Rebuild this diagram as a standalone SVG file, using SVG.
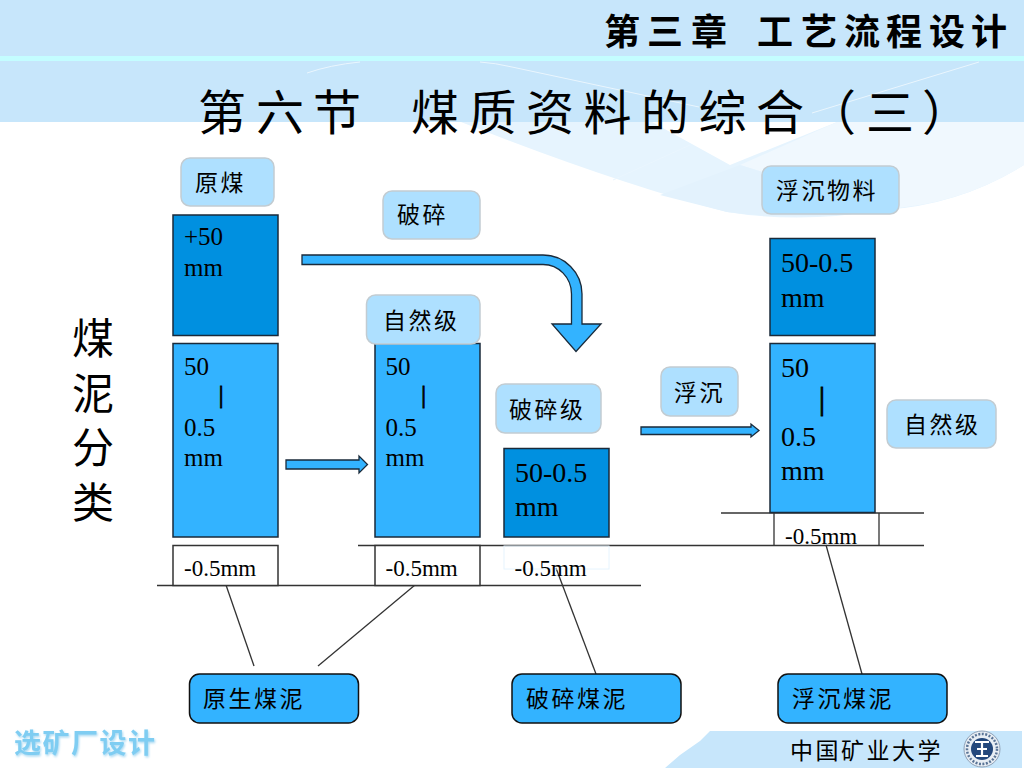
<svg xmlns="http://www.w3.org/2000/svg" width="1024" height="768" viewBox="0 0 1024 768">
<style>
.cjk{font-family:"Noto Sans CJK SC","Noto Sans",sans-serif;fill:#000}
.lab{font-size:23px;letter-spacing:2.5px}
.num{font-family:"Liberation Serif","Times New Roman",serif;fill:#000;font-size:25px}
.fine{font-size:23px}
.big{font-size:28px}
.bar{font-family:"Liberation Serif",serif;fill:#000;stroke:#000;stroke-width:.8px;text-anchor:middle}
.light{fill:#aee0ff;stroke:#c2ccd2;stroke-width:1.5}
.dark{fill:#0090e0;stroke:#1a2a3a;stroke-width:1.5}
.mid{fill:#33b3ff;stroke:#1a2a3a;stroke-width:1.5}
.white{fill:#fff;stroke:#333;stroke-width:1.5}
.tag{fill:#33b3ff;stroke:#111;stroke-width:1.5}
.rule{stroke:#333;stroke-width:1.3;fill:none}
.faint{stroke:#eaf6fe;stroke-width:1;fill:none}
.arrow{fill:#33b3ff;stroke:#1a2a3a;stroke-width:1.3}
</style>
<defs>
<filter id="soft" x="-10%" y="-20%" width="120%" height="140%"><feDropShadow dx="1" dy="1.5" stdDeviation="1" flood-color="#a6d8f2"/></filter>
</defs>
<g id="background">
<rect x="0" y="0" width="1024" height="122" fill="#c7e6fb"/>
<rect x="0" y="56" width="1024" height="5" fill="#c4fdff"/>
<path d="M461,122 L652,122 L730,165 L837,122 L1024,122 L1024,165 Q960,205 883,210 Q800,224 727,212 Q613,182 461,122 Z" fill="#e6f4fe"/>
<path d="M837,122 L1024,122 L1024,165 Q960,205 883,209 L740,165 Z" fill="#f0f8fe"/>
<path d="M660,195 L740,165 L883,209 Q800,222 727,212 Z" fill="#e3f2fd"/>
<path class="faint" d="M307,73 Q330,65 360,62 M480,62 Q495,63 512,67 L699,107 M812,113 L979,62 M613,180 L690,145"/>
<path d="M665,768 L680,755 L700,741 L710,731 L1022,731 L1022,768 Z" fill="#c7e6fb"/>
</g>
<g id="title">
<text class="cjk" font-size="36" font-weight="700" y="45" x="604 647 691 739 757 801 844 886 929 971">第三章 工艺流程设计</text>
<text class="cjk" font-size="48" y="130" x="198 256 313 362 411 468.5 526 583.5 641 698.5 756 808 866 922">第六节 煤质资料的综合（三）</text>
</g>
<g id="side-label">
<text class="cjk" font-size="42" x="72 72 72 72" y="354 409 463 518">煤泥分类</text>
</g>
<g id="connectors">
<path id="line-base-left" class="rule" d="M157,585.500 H641"/>
<path id="line-base-right" class="rule" d="M358,545.500 H924"/>
<path id="line-float-top" class="rule" d="M721,513 H924"/>
<path class="rule" d="M226,585 L254,666"/>
<path class="rule" d="M415,585 L318,666"/>
<path class="rule" d="M556,568 L596,674"/>
<path class="rule" d="M826,545 L862,674"/>
<path id="arrow-crush" class="arrow" d="M302,255 H543 A39,39 0 0 1 582,294 V324 H601 L576,351.500 L552,324 H571.500 V294 A28.500,29.500 0 0 0 543,264.500 H302 Z"/>
<path id="arrow-natural" class="arrow" d="M286,460 H359 V456 L367.500,464.500 L359,473 V469 H286 Z"/>
<path id="arrow-float" class="arrow" d="M641,427 H751 V424 L759,430.500 L751,437 V434.500 H641 Z"/>
</g>
<g id="node-raw">
<rect class="light" x="181" y="158" width="93" height="48" rx="9"/>
<text class="cjk lab" x="195" y="191">原煤</text>
</g>
<g id="node-raw-plus50">
<rect class="dark" x="173" y="215" width="105" height="120.500"/>
<text class="num" x="184" y="245">+50</text>
<text class="num" x="184" y="276">mm</text>
</g>
<g id="node-raw-mid">
<rect class="mid" x="173" y="343.500" width="105" height="193.500"/>
<text class="num" x="184" y="375">50</text>
<text class="bar" font-size="26" x="221" y="403">|</text>
<text class="num" x="184" y="436">0.5</text>
<text class="num" x="184" y="466">mm</text>
</g>
<g id="node-raw-fine">
<rect class="white" x="173" y="545.500" width="105" height="40"/>
<text class="num fine" x="184" y="576">-0.5mm</text>
</g>
<g id="node-crush">
<rect class="light" x="383" y="191" width="97" height="48" rx="9"/>
<text class="cjk lab" x="397" y="223">破碎</text>
</g>
<g id="node-natural">
<rect class="mid" x="375" y="343.500" width="105" height="193.500"/>
<rect class="light" x="366.500" y="295" width="113.500" height="49" rx="9"/>
<text class="cjk lab" x="383" y="329">自然级</text>
<text class="num" x="385.500" y="375">50</text>
<text class="bar" font-size="26" x="423.500" y="403">|</text>
<text class="num" x="385.500" y="436">0.5</text>
<text class="num" x="385.500" y="466">mm</text>
</g>
<g id="node-natural-fine">
<rect class="white" x="375" y="545.500" width="105" height="40"/>
<text class="num fine" x="385.500" y="576">-0.5mm</text>
</g>
<g id="node-crushed">
<rect class="light" x="496" y="384" width="105" height="49" rx="9"/>
<text class="cjk lab" x="509" y="418">破碎级</text>
<rect class="dark" x="504" y="448.500" width="105" height="88.500"/>
<text class="num big" x="515" y="482">50-0.5</text>
<text class="num big" x="515" y="516">mm</text>
</g>
<g id="node-crushed-fine">
<rect x="504" y="546" width="105" height="23" fill="none" stroke="#e6f4fe" stroke-width="1"/>
<text class="num fine" x="514.500" y="576">-0.5mm</text>
</g>
<g id="node-float-label">
<rect class="light" x="661" y="367" width="77" height="49" rx="9"/>
<text class="cjk lab" x="674" y="401">浮沉</text>
</g>
<g id="node-float-material">
<rect class="light" x="762" y="166" width="137" height="48" rx="9"/>
<text class="cjk lab" x="776" y="199">浮沉物料</text>
</g>
<g id="node-float-top">
<rect class="dark" x="770" y="238.500" width="105" height="97"/>
<text class="num big" x="781" y="272">50-0.5</text>
<text class="num big" x="781" y="307">mm</text>
</g>
<g id="node-float-mid">
<rect class="mid" x="770" y="343.500" width="105" height="169"/>
<text class="num big" x="781" y="377">50</text>
<text class="bar" font-size="32" x="822" y="408.500">|</text>
<text class="num big" x="781" y="446">0.5</text>
<text class="num big" x="781" y="480">mm</text>
</g>
<g id="node-float-natural">
<rect class="light" x="887" y="400" width="109" height="48" rx="9"/>
<text class="cjk lab" x="904" y="433">自然级</text>
</g>
<g id="node-float-fine">
<path class="rule" d="M774,513 V545 M879,513 V545" stroke-width="1.500"/>
<text class="num fine" x="785" y="544">-0.5mm</text>
</g>
<g id="node-slime-raw">
<rect class="tag" x="189.500" y="674" width="169" height="49" rx="10"/>
<text class="cjk lab" x="203" y="707">原生煤泥</text>
</g>
<g id="node-slime-crush">
<rect class="tag" x="512" y="674" width="169" height="49" rx="10"/>
<text class="cjk lab" x="526" y="707">破碎煤泥</text>
</g>
<g id="node-slime-float">
<rect class="tag" x="778" y="674" width="169" height="49" rx="10"/>
<text class="cjk lab" x="792" y="707">浮沉煤泥</text>
</g>
<g id="footer">
<text class="cjk" font-size="27" font-weight="700" style="fill:#7fcdf2" x="14 42.5 71 99.5 128" y="753" filter="url(#soft)">选矿厂设计</text>
<text class="cjk lab" x="790" y="759">中国矿业大学</text>
</g>
<g id="logo">
<circle cx="982" cy="749" r="18" fill="#e8eef4" stroke="#8fa2b8" stroke-width="1"/>
<circle cx="982" cy="749" r="15" fill="none" stroke="#5a7496" stroke-width="2.500" stroke-dasharray="2 1.500"/>
<circle cx="982" cy="749" r="11" fill="#24487c"/>
<path d="M975,742 L989,742 M982,742 V756 M976,756 H988 M977,749 H987" stroke="#fff" stroke-width="2.200" fill="none"/>
</g>
</svg>
